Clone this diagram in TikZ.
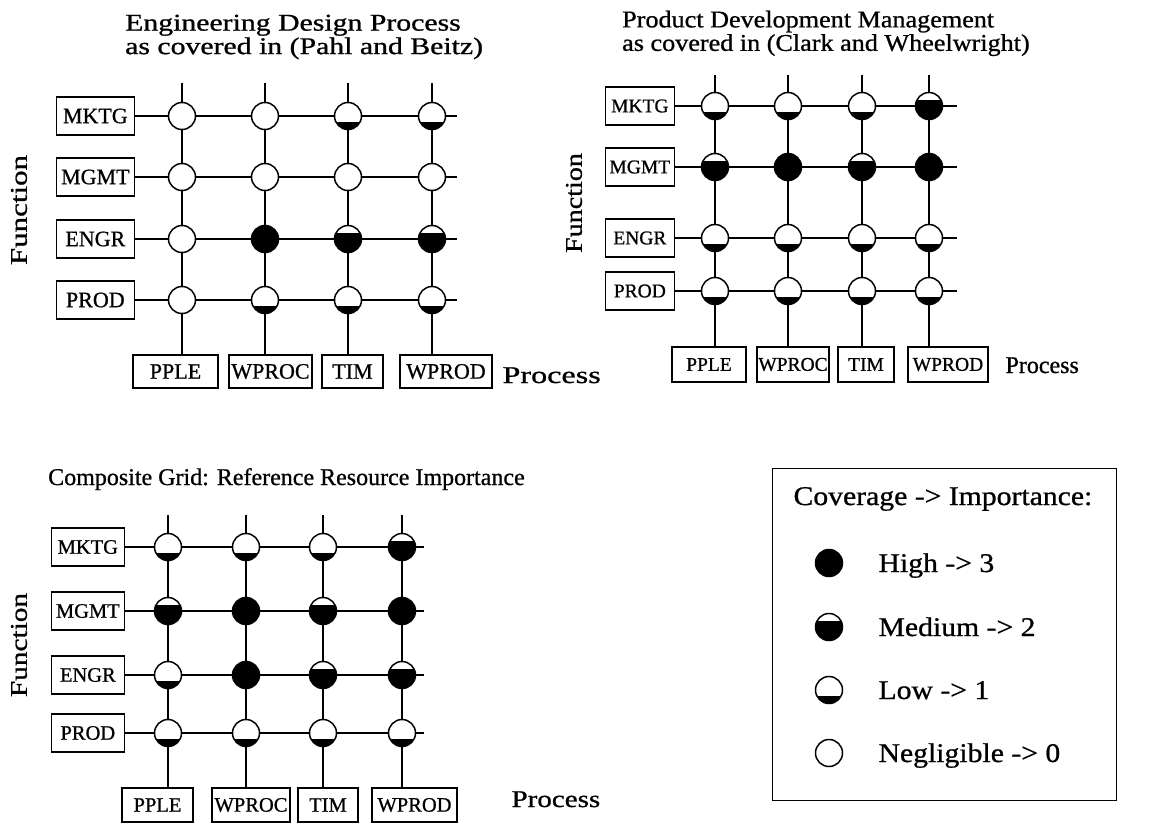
\documentclass[tikz,border=0pt]{standalone}
\usepackage{fontspec}
\setmainfont{Liberation Serif}[FakeBold=0.8]
\usepackage{graphicx}
\newcommand{\xwide}[2]{\scalebox{#1}[1]{#2}}
\tikzset{
    lbl/.style={draw, line width=1.3pt, inner sep=0pt},
    dot/.style={circle, draw, line width=1.5pt, minimum size=27pt, inner sep=0pt, fill=white},
    imp0/.style={dot},
    imp1/.style={dot, path picture={\fill[black] (path picture bounding box.south west) rectangle ([yshift=-6pt]path picture bounding box.east);}},
    imp2/.style={dot, path picture={\fill[black] (path picture bounding box.south west) rectangle ([yshift=6pt]path picture bounding box.east);}},
    imp3/.style={dot, fill=black},
    wire/.style={line width=2.2pt},
}

\begin{document}
\begin{tikzpicture}[x=1pt, y=-1pt]
    \useasboundingbox (0,0) rectangle (1157,823);

    % Pahl and Beitz
    \node[anchor=north west, align=left, inner sep=0pt, font=\fontsize{24}{23.5}\selectfont] (a-title) at (125,14.5)
        {\xwide{1.24}{Engineering Design Process}\\ \xwide{1.24}{as covered in (Pahl and Beitz)}};
    \node[rotate=90, font=\fontsize{24}{24}\selectfont] (a-fn) at (19,210) {\xwide{1.29}{Function}};
    \node[anchor=base west, font=\fontsize{24}{24}\selectfont] (a-pr) at (499,383) {\xwide{1.34}{Process}};
    \begin{scope}[font=\fontsize{22}{22}\selectfont]
        \foreach \t/\y [count=\r] in {MKTG/116, MGMT/177, ENGR/239, PROD/300}
            \node[lbl, anchor=east, minimum width=78pt, minimum height=38pt] (a-r\r) at (135,\y) {\t};
        \foreach \t/\x/\w [count=\c] in {PPLE/175.5/85, WPROC/270.5/83, TIM/352.5/61, WPROD/446/92}
            \node[lbl, minimum width=\w pt, minimum height=33pt] (a-c\c) at (\x,371.5) {\t};
    \end{scope}
    \foreach \v [count=\i from 0] in {0,0,1,1, 0,0,0,0, 0,3,2,2, 0,1,1,1} {
        \pgfmathtruncatemacro\r{div(\i,4)+1}
        \pgfmathtruncatemacro\c{mod(\i,4)+1}
        \pgfmathsetmacro\x{{182,265,348,432}[\c-1]}
        \pgfmathsetmacro\y{{116,177,239,300}[\r-1]}
        \node[imp\v] (a-\r-\c) at (\x,\y) {};
    }
    \foreach \x [count=\c] in {182,265,348,432} {
        \coordinate (a-t\c) at (\x,83);
        \draw[wire] (a-t\c) -- (a-1-\c) -- (a-2-\c) -- (a-3-\c) -- (a-4-\c) -- (a-4-\c |- a-c\c.north);
    }
    \foreach \y [count=\r] in {116,177,239,300} {
        \coordinate (a-e\r) at (457,\y);
        \draw[wire] (a-r\r) -- (a-\r-1) -- (a-\r-2) -- (a-\r-3) -- (a-\r-4) -- (a-e\r);
    }

    % Clark and Wheelwright
    \node[anchor=north west, align=left, inner sep=0pt, font=\fontsize{24}{23.5}\selectfont] (b-title) at (622,10.5)
        {\xwide{1.09}{Product Development Management}\\ \xwide{1.09}{as covered in (Clark and Wheelwright)}};
    \node[rotate=90, font=\fontsize{24}{24}\selectfont] (b-fn) at (574,203) {\xwide{1.17}{Function}};
    \node[anchor=base west, font=\fontsize{24}{24}\selectfont] (b-pr) at (1002,373) {Process};
    \begin{scope}[font=\fontsize{19.5}{19.5}\selectfont]
        \foreach \t/\y [count=\r] in {MKTG/106, MGMT/167, ENGR/238, PROD/291}
            \node[lbl, anchor=east, minimum width=69pt, minimum height=38pt] (b-r\r) at (675,\y) {\t};
        \foreach \t/\x/\w [count=\c] in {PPLE/709/74, WPROC/793/72, TIM/866/56, WPROD/948/80}
            \node[lbl, minimum width=\w pt, minimum height=35pt] (b-c\c) at (\x,364.5) {\t};
    \end{scope}
    \foreach \v [count=\i from 0] in {1,1,1,2, 2,3,2,3, 1,1,1,1, 1,1,1,1} {
        \pgfmathtruncatemacro\r{div(\i,4)+1}
        \pgfmathtruncatemacro\c{mod(\i,4)+1}
        \pgfmathsetmacro\x{{715,788,862,929}[\c-1]}
        \pgfmathsetmacro\y{{106,167,238,291}[\r-1]}
        \node[imp\v] (b-\r-\c) at (\x,\y) {};
    }
    \foreach \x [count=\c] in {715,788,862,929} {
        \coordinate (b-t\c) at (\x,75);
        \draw[wire] (b-t\c) -- (b-1-\c) -- (b-2-\c) -- (b-3-\c) -- (b-4-\c) -- (b-4-\c |- b-c\c.north);
    }
    \foreach \y [count=\r] in {106,167,238,291} {
        \coordinate (b-e\r) at (957,\y);
        \draw[wire] (b-r\r) -- (b-\r-1) -- (b-\r-2) -- (b-\r-3) -- (b-\r-4) -- (b-e\r);
    }

    % composite
    \node[anchor=base west, inner sep=0pt, font=\fontsize{24}{24}\selectfont] (c-title) at (48,485)
        {Composite Grid: Reference Resource Importance};
    \node[rotate=90, font=\fontsize{24}{24}\selectfont] (c-fn) at (19,645) {\xwide{1.22}{Function}};
    \node[anchor=base west, font=\fontsize{24}{24}\selectfont] (c-pr) at (508,807) {\xwide{1.21}{Process}};
    \begin{scope}[font=\fontsize{20.5}{20.5}\selectfont]
        \foreach \t/\y [count=\r] in {MKTG/547, MGMT/611, ENGR/675, PROD/733}
            \node[lbl, anchor=east, minimum width=73pt, minimum height=38pt] (c-r\r) at (125,\y) {\t};
        \foreach \t/\x/\w [count=\c] in {PPLE/157.5/71, WPROC/251/78, TIM/328/60, WPROD/414.5/85}
            \node[lbl, minimum width=\w pt, minimum height=34pt] (c-c\c) at (\x,805) {\t};
    \end{scope}
    \foreach \v [count=\i from 0] in {1,1,1,2, 2,3,2,3, 1,3,2,2, 1,1,1,1} {
        \pgfmathtruncatemacro\r{div(\i,4)+1}
        \pgfmathtruncatemacro\c{mod(\i,4)+1}
        \pgfmathsetmacro\x{{168,246,323,402}[\c-1]}
        \pgfmathsetmacro\y{{547,611,675,733}[\r-1]}
        \node[imp\v] (c-\r-\c) at (\x,\y) {};
    }
    \foreach \x [count=\c] in {168,246,323,402} {
        \coordinate (c-t\c) at (\x,515);
        \draw[wire] (c-t\c) -- (c-1-\c) -- (c-2-\c) -- (c-3-\c) -- (c-4-\c) -- (c-4-\c |- c-c\c.north);
    }
    \foreach \y [count=\r] in {547,611,675,733} {
        \coordinate (c-e\r) at (424,\y);
        \draw[wire] (c-r\r) -- (c-\r-1) -- (c-\r-2) -- (c-\r-3) -- (c-\r-4) -- (c-e\r);
    }

    % key
    \node[draw, line width=1.2pt, inner sep=0pt, anchor=north west, minimum width=344pt, minimum height=332pt] (key) at (772,468) {};
    \node[anchor=base west, font=\fontsize{27}{27}\selectfont] (key-t) at (790,505) {\xwide{1.1}{Coverage -> Importance:}};
    \foreach \v/\t/\y in {3/High -> 3/563, 2/Medium -> 2/627, 1/Low -> 1/690, 0/Negligible -> 0/753} {
        \node[imp\v] (k\v) at (829,\y) {};
        \node[anchor=base west, font=\fontsize{27}{27}\selectfont] (k\v-t) at (875,\y+9) {\xwide{1.1}{\t}};
    }
\end{tikzpicture}
\end{document}
